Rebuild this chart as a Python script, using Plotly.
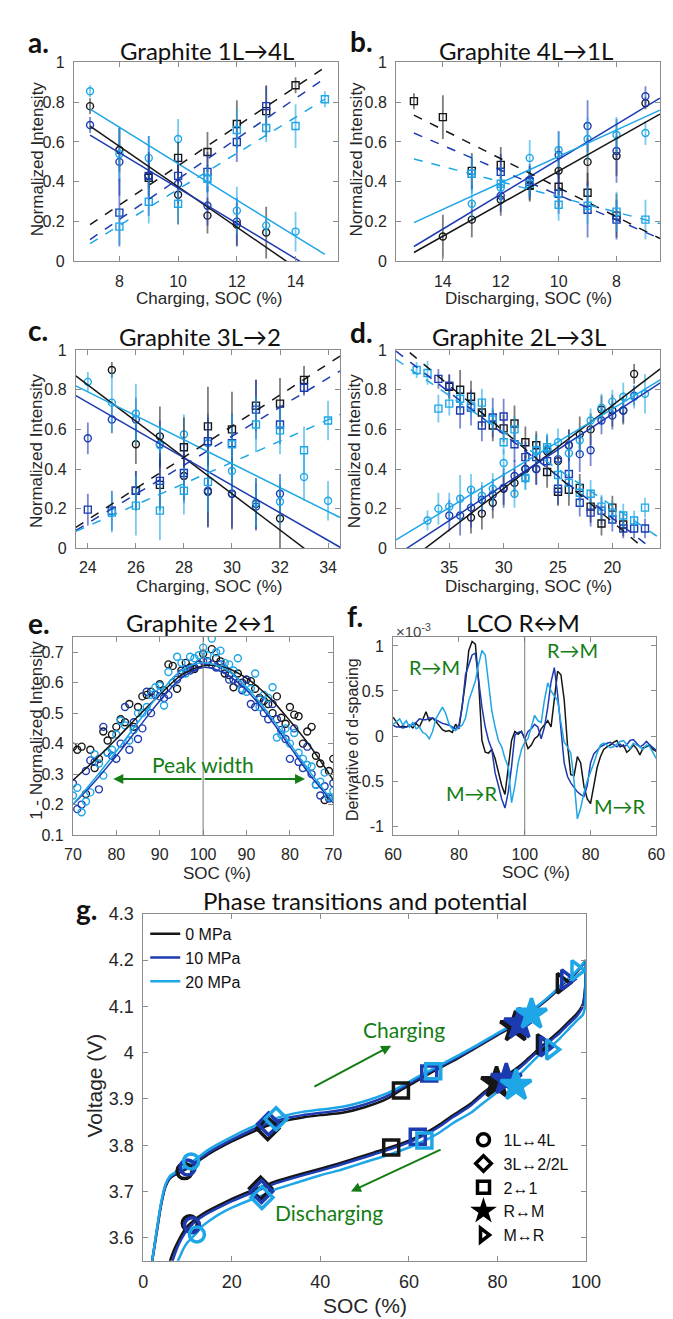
import plotly.graph_objects as go

W, H = 673, 1319
BLK = "#161616"
DKB = "#1d3bb0"
LTB = "#1ea6e6"
GRN = "#137d13"
AXC = "#8c8c8c"
TXT = "#262626"
EBC = {BLK: "rgba(40,40,40,0.6)", DKB: "rgba(29,59,176,0.6)", LTB: "rgba(30,166,230,0.6)"}
TFONT = "Lato, Open Sans, sans-serif"
AFONT = "Liberation Sans, Arial, sans-serif"

# ---------------- Panel a: Graphite 1L->4L (charging) ----------------
a_circ_k_x = [7, 8, 9, 10, 11, 12, 13]
a_circ_k_y = [0.78, 0.56, 0.43, 0.335, 0.23, 0.185, 0.145]
a_circ_k_e = [0.04, 0.11, 0.10, 0.15, 0.09, 0.11, 0.13]
a_circ_d_x = [7, 8, 9, 10, 11, 12]
a_circ_d_y = [0.685, 0.50, 0.43, 0.39, 0.28, 0.20]
a_circ_d_e = [0.04, 0.17, 0.20, 0.10, 0.10, 0.12]
a_circ_l_x = [7, 8, 9, 10, 11, 12, 13, 14]
a_circ_l_y = [0.855, 0.54, 0.52, 0.615, 0.415, 0.255, 0.18, 0.15]
a_circ_l_e = [0.03, 0.14, 0.11, 0.10, 0.07, 0.12, 0.05, 0.10]
a_sq_k_x = [9, 10, 11, 12, 13, 14]
a_sq_k_y = [0.42, 0.52, 0.55, 0.69, 0.755, 0.885]
a_sq_k_e = [0.05, 0.08, 0.10, 0.12, 0.13, 0.04]
a_sq_d_x = [8, 9, 10, 11, 12, 13]
a_sq_d_y = [0.245, 0.43, 0.43, 0.45, 0.60, 0.78]
a_sq_d_e = [0.17, 0.12, 0.09, 0.10, 0.10, 0.10]
a_sq_l_x = [8, 9, 10, 11, 12, 13, 14, 15]
a_sq_l_y = [0.175, 0.30, 0.29, 0.415, 0.66, 0.67, 0.68, 0.815]
a_sq_l_e = [0.09, 0.11, 0.10, 0.06, 0.11, 0.07, 0.11, 0.04]
a_fit_x = [7, 15]
a_fit_circ_k = [0.68, -0.132]
a_fit_circ_d = [0.635, -0.075]
a_fit_circ_l = [0.765, 0.035]
a_fit_sq_k = [0.185, 0.975]
a_fit_sq_d = [0.11, 0.92]
a_fit_sq_l = [0.09, 0.815]

# ---------------- Panel b: Graphite 4L->1L (discharging) ----------------
b_circ_k_x = [14, 13, 12, 11, 10, 9, 8, 7]
b_circ_k_y = [0.125, 0.21, 0.31, 0.38, 0.455, 0.50, 0.53, 0.795]
b_circ_k_e = [0.11, 0.09, 0.08, 0.07, 0.12, 0.12, 0.10, 0.03]
b_circ_d_x = [12, 11, 10, 9, 8, 7]
b_circ_d_y = [0.33, 0.41, 0.535, 0.68, 0.555, 0.83]
b_circ_d_e = [0.08, 0.08, 0.12, 0.13, 0.16, 0.05]
b_circ_l_x = [13, 12, 11, 10, 9, 8, 7]
b_circ_l_y = [0.29, 0.37, 0.52, 0.56, 0.615, 0.635, 0.645]
b_circ_l_e = [0.09, 0.07, 0.09, 0.09, 0.11, 0.09, 0.06]
b_sq_k_x = [15, 14, 13, 12, 11, 10, 9, 8]
b_sq_k_y = [0.805, 0.725, 0.455, 0.485, 0.38, 0.375, 0.345, 0.23]
b_sq_k_e = [0.04, 0.11, 0.09, 0.09, 0.08, 0.10, 0.10, 0.11]
b_sq_d_x = [13, 12, 11, 10, 9, 8]
b_sq_d_y = [0.44, 0.45, 0.40, 0.34, 0.26, 0.21]
b_sq_d_e = [0.08, 0.09, 0.08, 0.10, 0.14, 0.10]
b_sq_l_x = [13, 12, 11, 10, 9, 8, 7]
b_sq_l_y = [0.44, 0.39, 0.39, 0.285, 0.28, 0.25, 0.21]
b_sq_l_e = [0.10, 0.09, 0.07, 0.08, 0.09, 0.10, 0.10]
b_fit_x = [15, 6.5]
b_fit_circ_k = [0.045, 0.74]
b_fit_circ_d = [0.075, 0.82]
b_fit_circ_l = [0.195, 0.76]
b_fit_sq_k = [0.735, 0.115]
b_fit_sq_d = [0.645, 0.115]
b_fit_sq_l = [0.515, 0.19]

# ---------------- Panel c: Graphite 3L->2 (charging) ----------------
c_circ_k_x = [25, 26, 27, 28, 29, 30, 31, 32]
c_circ_k_y = [0.90, 0.525, 0.565, 0.365, 0.285, 0.275, 0.225, 0.15]
c_circ_k_e = [0.04, 0.10, 0.15, 0.12, 0.18, 0.18, 0.13, 0.17]
c_circ_d_x = [24, 25, 26, 27, 29, 30, 31, 32]
c_circ_d_y = [0.555, 0.65, 0.65, 0.525, 0.29, 0.275, 0.21, 0.275]
c_circ_d_e = [0.08, 0.07, 0.11, 0.12, 0.18, 0.17, 0.12, 0.10]
c_circ_l_x = [24, 25, 26, 27, 28, 29, 30, 31, 32, 33, 34]
c_circ_l_y = [0.84, 0.735, 0.68, 0.52, 0.575, 0.53, 0.39, 0.23, 0.235, 0.36, 0.24]
c_circ_l_e = [0.05, 0.15, 0.15, 0.10, 0.10, 0.15, 0.13, 0.12, 0.12, 0.12, 0.10]
c_sq_k_x = [26, 27, 28, 29, 30, 31, 32, 33]
c_sq_k_y = [0.29, 0.32, 0.51, 0.615, 0.60, 0.72, 0.73, 0.85]
c_sq_k_e = [0.10, 0.13, 0.15, 0.20, 0.19, 0.13, 0.13, 0.07]
c_sq_d_x = [24, 25, 26, 27, 28, 29, 30, 31, 32, 33]
c_sq_d_y = [0.195, 0.19, 0.29, 0.34, 0.38, 0.54, 0.53, 0.70, 0.625, 0.81]
c_sq_d_e = [0.08, 0.10, 0.10, 0.14, 0.15, 0.12, 0.15, 0.15, 0.10, 0.04]
c_sq_l_x = [25, 26, 27, 28, 29, 30, 31, 32, 33, 34]
c_sq_l_y = [0.18, 0.215, 0.19, 0.29, 0.335, 0.525, 0.625, 0.595, 0.495, 0.645]
c_sq_l_e = [0.10, 0.15, 0.15, 0.12, 0.15, 0.15, 0.14, 0.12, 0.12, 0.10]
c_fit_x = [23.5, 34.5]
c_fit_circ_k = [0.87, -0.137]
c_fit_circ_d = [0.77, 0.005]
c_fit_circ_l = [0.82, 0.155]
c_fit_sq_k = [0.105, 0.97]
c_fit_sq_d = [0.09, 0.895]
c_fit_sq_l = [0.085, 0.675]

# ---------------- Panel d: Graphite 2L->3L (discharging) ----------------
d_circ_l_x = [37, 36, 35, 34, 33, 32, 31, 30, 29, 28, 27, 26, 25, 24, 23, 22, 21, 20, 19, 18, 17]
d_circ_l_y = [0.14, 0.20, 0.21, 0.25, 0.295, 0.265, 0.30, 0.43, 0.275, 0.355, 0.495, 0.50, 0.535,
              0.48, 0.545, 0.645, 0.71, 0.74, 0.765, 0.765, 0.78]
d_circ_l_e = [0.05, 0.08, 0.07, 0.12, 0.08, 0.07, 0.08, 0.07, 0.07, 0.06, 0.08, 0.07, 0.07,
              0.08, 0.07, 0.06, 0.07, 0.06, 0.07, 0.06, 0.10]
d_circ_d_x = [35, 34, 33, 32, 31, 30, 29, 28, 27, 26, 25, 24, 23, 22, 21, 20, 19, 18]
d_circ_d_y = [0.165, 0.165, 0.205, 0.245, 0.27, 0.305, 0.365, 0.40, 0.40, 0.50, 0.45, 0.52,
              0.475, 0.495, 0.645, 0.67, 0.695, 0.77]
d_circ_d_e = [0.08, 0.10, 0.10, 0.07, 0.08, 0.10, 0.08, 0.07, 0.08, 0.07, 0.07, 0.08,
              0.09, 0.08, 0.07, 0.07, 0.06, 0.05]
d_circ_k_x = [33, 32, 31, 30, 29, 28, 27, 26, 25, 24, 23, 22, 21, 20, 19, 18]
d_circ_k_y = [0.155, 0.175, 0.23, 0.30, 0.33, 0.40, 0.40, 0.49, 0.44, 0.52, 0.575, 0.60,
              0.70, 0.695, 0.695, 0.88]
d_circ_k_e = [0.08, 0.08, 0.08, 0.08, 0.07, 0.07, 0.08, 0.07, 0.08, 0.08, 0.09, 0.08,
              0.07, 0.08, 0.07, 0.05]
d_sq_k_x = [35, 34, 33, 32, 31, 30, 29, 28, 27, 26, 25, 24, 23, 22, 21, 20, 19]
d_sq_k_y = [0.815, 0.80, 0.765, 0.685, 0.62, 0.605, 0.63, 0.535, 0.52, 0.385, 0.285, 0.295,
            0.305, 0.21, 0.125, 0.205, 0.12]
d_sq_k_e = [0.06, 0.10, 0.08, 0.07, 0.08, 0.07, 0.09, 0.08, 0.07, 0.08, 0.07, 0.08,
            0.07, 0.08, 0.06, 0.06, 0.06]
d_sq_d_x = [36, 35, 34, 33, 32, 31, 30, 29, 28, 27, 26, 25, 24, 23, 22, 21, 20, 19, 18, 17]
d_sq_d_y = [0.855, 0.82, 0.695, 0.71, 0.62, 0.66, 0.665, 0.525, 0.46, 0.46, 0.44, 0.30,
            0.375, 0.23, 0.18, 0.19, 0.145, 0.10, 0.10, 0.10]
d_sq_d_e = [0.05, 0.06, 0.09, 0.09, 0.08, 0.10, 0.09, 0.09, 0.08, 0.07, 0.07, 0.08,
            0.08, 0.07, 0.07, 0.07, 0.06, 0.05, 0.05, 0.05]
d_sq_l_x = [38, 37, 36, 35, 34, 33, 32, 31, 30, 29, 28, 27, 26, 25, 24, 23, 22, 21, 20, 19, 18, 17]
d_sq_l_y = [0.90, 0.885, 0.705, 0.73, 0.755, 0.72, 0.735, 0.65, 0.535, 0.60, 0.355, 0.495,
            0.51, 0.37, 0.33, 0.28, 0.275, 0.21, 0.18, 0.165, 0.14, 0.205]
d_sq_l_e = [0.04, 0.06, 0.07, 0.06, 0.06, 0.06, 0.07, 0.06, 0.06, 0.07, 0.06, 0.07,
            0.07, 0.07, 0.07, 0.07, 0.07, 0.06, 0.06, 0.06, 0.05, 0.05]
d_fit_x = [39.9, 15.6]
d_fit_circ_k = [-0.113, 0.905]
d_fit_circ_d = [-0.036, 0.835]
d_fit_circ_l = [0.042, 0.85]
d_fit_sq_k = [1.046, -0.069]
d_fit_sq_d = [0.995, -0.034]
d_fit_sq_l = [0.953, 0.05]

# ---------------- Panel e: Graphite 2<->1 (position along 70..100..70 SOC) ----------------
e_pos = list(range(0, 61))
e_k = [0.39, 0.38, 0.39, 0.235, 0.38, 0.32, 0.35, 0.44, 0.41, 0.43, 0.455, 0.48, 0.47, 0.53, 0.455,
       0.52, 0.555, 0.56, 0.57, 0.56, 0.595, 0.575, 0.66, 0.655, 0.58, 0.64, 0.665, 0.65, 0.645, 0.66,
       0.695, 0.67, 0.71, 0.68, 0.67, 0.63, 0.625, 0.585, 0.63, 0.60, 0.61, 0.605, 0.58, 0.55, 0.54,
       0.53, 0.50, 0.555, 0.485, 0.465, 0.52, 0.495, 0.49, 0.40, 0.44, 0.455, 0.36, 0.335, 0.215, 0.31, 0.35]
e_d = [0.27, 0.185, 0.20, 0.31, 0.345, 0.34, 0.25, 0.455, 0.37, 0.36, 0.35, 0.40, 0.52, 0.38, 0.47,
       0.415, 0.45, 0.57, 0.50, 0.56, 0.555, 0.55, 0.56, 0.60, 0.61, 0.63, 0.645, 0.64, 0.65, 0.66,
       0.67, 0.67, 0.66, 0.65, 0.66, 0.645, 0.61, 0.61, 0.60, 0.575, 0.61, 0.53, 0.52, 0.545, 0.50,
       0.48, 0.53, 0.48, 0.445, 0.415, 0.35, 0.45, 0.34, 0.32, 0.39, 0.30, 0.265, 0.23, 0.26, 0.22, 0.27]
e_l = [0.23, 0.255, 0.175, 0.21, 0.24, 0.365, 0.335, 0.295, 0.37, 0.38, 0.43, 0.475, 0.46, 0.41, 0.445,
       0.50, 0.50, 0.52, 0.56, 0.585, 0.59, 0.525, 0.635, 0.60, 0.685, 0.665, 0.63, 0.685, 0.68, 0.69,
       0.715, 0.69, 0.745, 0.70, 0.705, 0.665, 0.66, 0.64, 0.68, 0.58, 0.57, 0.58, 0.63, 0.52, 0.56,
       0.55, 0.585, 0.42, 0.43, 0.45, 0.40, 0.435, 0.37, 0.35, 0.33, 0.325, 0.265, 0.275, 0.305, 0.225, 0.245]
e_fit_pos = [0, 5, 10, 15, 20, 25, 30, 35, 40, 45, 50, 55, 60]
e_fit_k = [0.28, 0.345, 0.415, 0.49, 0.56, 0.625, 0.655, 0.65, 0.615, 0.555, 0.475, 0.385, 0.28]
e_fit_d = [0.20, 0.275, 0.36, 0.45, 0.54, 0.615, 0.65, 0.63, 0.575, 0.49, 0.39, 0.29, 0.205]
e_fit_l = [0.20, 0.285, 0.375, 0.47, 0.565, 0.64, 0.665, 0.645, 0.585, 0.50, 0.40, 0.30, 0.21]
e_tick_pos = [0, 10, 20, 30, 40, 50, 60]
e_tick_lab = ["70", "80", "90", "100", "90", "80", "70"]

# ---------------- Panel f: LCO R<->M (position along 60..100..60 SOC), values x1e-3 ----------------
f_pos = list(range(0, 81))
f_k = [0.21, 0.15, 0.10, 0.11, 0.10, 0.12, 0.09, 0.14, 0.10, 0.18, 0.27, 0.17, 0.20, 0.16, 0.12, 0.07,
       0.05, 0.06, 0.04, 0.13, 0.08, 0.35, 0.60, 0.95, 1.05, 1.02, 0.60, -0.05, -0.18, -0.19, -0.15,
       -0.25, -0.40, -0.55, -0.65, -0.38, -0.05, 0.05, 0.02, 0.05, -0.03,
       -0.14, -0.10, -0.03, 0.00, 0.08, 0.12, 0.17, 0.10, 0.45, 0.72, 0.68, 0.40, -0.10, -0.43, -0.44,
       -0.23, -0.30, -0.56, -0.70, -0.75, -0.55, -0.35, -0.23, -0.15, -0.12, -0.10, -0.07, -0.05, -0.12,
       -0.10, -0.18, -0.15, -0.10, -0.14, -0.21, -0.13, -0.12, -0.10, -0.15, -0.17]
f_d = [0.12, 0.10, 0.10, 0.09, 0.10, 0.11, 0.13, 0.15, 0.19, 0.18, 0.18, 0.20, 0.20, 0.18, 0.16, 0.14,
       0.13, 0.12, 0.10, 0.08, 0.12, 0.32, 0.68, 0.80, 0.90, 0.92, 0.60, 0.32, 0.10, -0.05, -0.15,
       -0.41, -0.55, -0.70, -0.80, -0.62, -0.34, 0.01, 0.04, 0.05, -0.03,
       0.05, 0.08, 0.13, 0.10, -0.03, 0.10, 0.32, 0.60, 0.76, 0.46, 0.10, -0.30, -0.45, -0.52, -0.57,
       -0.62, -0.65, -0.67, -0.55, -0.30, -0.20, -0.16, -0.12, -0.10, -0.08, -0.07, -0.10, -0.12, -0.09,
       -0.12, -0.10, -0.05, -0.04, -0.08, -0.12, -0.10, -0.06, -0.10, -0.13, -0.16]
f_l = [0.13, 0.16, 0.19, 0.12, 0.17, 0.10, 0.15, 0.08, 0.10, 0.04, 0.02, -0.03, 0.05, 0.19, 0.25, 0.32,
       0.25, 0.13, 0.08, 0.06, 0.10, 0.12, 0.20, 0.39, 0.50, 0.61, 0.80, 0.95, 0.90, 0.60, 0.28,
       0.10, -0.05, -0.12, -0.25, -0.34, -0.74, -0.55, -0.30, -0.15, -0.07,
       -0.03, 0.10, 0.23, 0.17, 0.15, 0.40, 0.59, 0.50, 0.45, 0.39, 0.15, -0.07, -0.12, -0.19, -0.50,
       -0.92, -0.80, -0.63, -0.50, -0.41, -0.30, -0.19, -0.10, -0.08, -0.10, -0.13, -0.12, -0.09, -0.06,
       -0.05, -0.10, -0.14, -0.08, -0.10, -0.12, -0.15, -0.10, -0.12, -0.18, -0.25]
f_tick_pos = [0, 20, 40, 60, 80]
f_tick_lab = ["60", "80", "100", "80", "60"]

# ---------------- Panel g: voltage vs SOC ----------------
g_chg_soc = [2, 3, 4, 5, 6, 7, 8, 10, 12, 15, 20, 25, 28, 32, 36, 40, 45, 50, 55, 58, 62, 65, 70, 75,
             80, 84, 88, 90, 93, 95, 97, 98, 99, 100]
g_chg_k = [3.55, 3.61, 3.67, 3.71, 3.728, 3.735, 3.74, 3.75, 3.763, 3.782, 3.808, 3.83, 3.842, 3.853,
           3.86, 3.865, 3.87, 3.882, 3.90, 3.918, 3.94, 3.957, 3.982, 4.01, 4.038, 4.06, 4.09, 4.105,
           4.13, 4.15, 4.165, 4.175, 4.187, 4.2]
g_chg_d = [3.55, 3.612, 3.672, 3.712, 3.73, 3.737, 3.742, 3.753, 3.766, 3.786, 3.812, 3.835, 3.847,
           3.858, 3.865, 3.870, 3.876, 3.888, 3.906, 3.922, 3.944, 3.96, 3.985, 4.012, 4.04, 4.062,
           4.092, 4.107, 4.132, 4.152, 4.167, 4.177, 4.188, 4.2]
g_chg_l = [3.55, 3.615, 3.675, 3.715, 3.733, 3.74, 3.746, 3.757, 3.771, 3.792, 3.818, 3.841, 3.852,
           3.864, 3.872, 3.877, 3.883, 3.895, 3.912, 3.926, 3.948, 3.963, 3.988, 4.014, 4.042, 4.064,
           4.094, 4.108, 4.133, 4.153, 4.168, 4.178, 4.189, 4.2]
g_dis_soc = [100, 99.8, 99.3, 98, 96, 94, 92, 90, 87, 85, 82, 80, 77, 74, 70, 67, 65, 62, 60, 56, 52,
             48, 44, 40, 35, 30, 27, 24, 20, 17, 14, 12, 11, 10, 9, 8, 7, 6.2, 5.9]
g_dis_k = [4.2, 4.14, 4.105, 4.085, 4.066, 4.047, 4.03, 4.014, 3.988, 3.971, 3.95, 3.936, 3.915, 3.89,
           3.865, 3.845, 3.833, 3.818, 3.81, 3.796, 3.784, 3.772, 3.76, 3.749, 3.736, 3.722, 3.711,
           3.70, 3.684, 3.67, 3.655, 3.642, 3.634, 3.625, 3.612, 3.595, 3.575, 3.555, 3.545]
g_dis_d_soc = [100, 99.8, 99.3, 98, 96, 94, 92, 90, 87, 85, 82, 80, 77, 74, 70, 67, 65, 62, 60, 56, 52,
               48, 44, 40, 35, 30, 27, 24, 20, 17, 14, 12, 11, 10, 9, 8, 7.2, 6.6, 6.3]
g_dis_d = [4.2, 4.135, 4.1, 4.08, 4.061, 4.042, 4.026, 4.010, 3.984, 3.967, 3.946, 3.932, 3.911, 3.886,
           3.861, 3.841, 3.829, 3.815, 3.806, 3.792, 3.780, 3.768, 3.756, 3.745, 3.732, 3.718, 3.706,
           3.695, 3.679, 3.665, 3.650, 3.637, 3.628, 3.618, 3.604, 3.586, 3.567, 3.55, 3.54]
g_dis_l_soc = [100, 99.8, 99.3, 98, 96, 94, 92, 90, 87, 85, 82, 80, 77, 74, 70, 67, 65, 62, 60, 56, 52,
               48, 44, 40, 35, 30, 27, 24, 20, 17, 15, 13, 12, 11, 10, 9, 8.3, 7.7, 7.4]
g_dis_l = [4.2, 4.1, 4.082, 4.07, 4.05, 4.03, 4.013, 4.0, 3.972, 3.953, 3.93, 3.915, 3.893, 3.87,
           3.848, 3.828, 3.817, 3.803, 3.795, 3.781, 3.769, 3.757, 3.745, 3.735, 3.72, 3.705, 3.692,
           3.681, 3.665, 3.65, 3.637, 3.622, 3.61, 3.6, 3.59, 3.575, 3.56, 3.548, 3.54]

g_mk_names = ["1L↔4L", "3L↔2/2L", "2↔1", "R↔M", "M↔R"]
g_chg_mk_soc_k = [9.3, 28.1, 58.2, 84.1, 94.5]
g_chg_mk_v_k = [3.744, 3.836, 3.918, 4.056, 4.150]
g_chg_mk_soc_d = [10.0, 28.3, 64.6, 85.0, 95.5]
g_chg_mk_v_d = [3.752, 3.846, 3.955, 4.062, 4.158]
g_chg_mk_soc_l = [10.8, 30.0, 65.5, 87.7, 97.8]
g_chg_mk_v_l = [3.765, 3.857, 3.960, 4.083, 4.178]
g_dis_mk_soc_k = [10.5, 26.5, 56.0, 79.8, 90.0]
g_dis_mk_v_k = [3.631, 3.707, 3.795, 3.935, 4.018]
g_dis_mk_soc_d = [11.0, 26.7, 62.0, 82.0, 90.7]
g_dis_mk_v_d = [3.627, 3.700, 3.818, 3.942, 4.014]
g_dis_mk_soc_l = [12.1, 26.8, 63.5, 84.2, 92.1]
g_dis_mk_v_l = [3.607, 3.687, 3.810, 3.929, 4.007]
g_legend_names = ["0 MPa", "10 MPa", "20 MPa"]

# ---------------- figure ----------------
fig = go.Figure()


def ax_id(i):
    return "" if i == 1 else str(i)


def add_pts(i, x, y, err, color, symbol):
    fig.add_trace(go.Scatter(
        x=x, y=y, mode="markers", xaxis="x" + ax_id(i), yaxis="y" + ax_id(i),
        marker=dict(symbol=symbol, size=7, color=color, opacity=1, line=dict(width=1.4, color=color)),
        error_y=dict(type="data", array=err, width=0, thickness=1.8, color=EBC[color]),
        showlegend=False, hoverinfo="skip"))


def add_line(i, x, y, color, dash="solid", width=1.5, shape="linear"):
    fig.add_trace(go.Scatter(
        x=x, y=y, mode="lines", xaxis="x" + ax_id(i), yaxis="y" + ax_id(i),
        line=dict(color=color, width=width, dash=dash, shape=shape),
        showlegend=False, hoverinfo="skip"))


panels = [
    (1, a_fit_x, [(a_circ_k_x, a_circ_k_y, a_circ_k_e, a_fit_circ_k, BLK),
                  (a_circ_d_x, a_circ_d_y, a_circ_d_e, a_fit_circ_d, DKB),
                  (a_circ_l_x, a_circ_l_y, a_circ_l_e, a_fit_circ_l, LTB)],
     [(a_sq_k_x, a_sq_k_y, a_sq_k_e, a_fit_sq_k, BLK),
      (a_sq_d_x, a_sq_d_y, a_sq_d_e, a_fit_sq_d, DKB),
      (a_sq_l_x, a_sq_l_y, a_sq_l_e, a_fit_sq_l, LTB)]),
    (2, b_fit_x, [(b_circ_k_x, b_circ_k_y, b_circ_k_e, b_fit_circ_k, BLK),
                  (b_circ_d_x, b_circ_d_y, b_circ_d_e, b_fit_circ_d, DKB),
                  (b_circ_l_x, b_circ_l_y, b_circ_l_e, b_fit_circ_l, LTB)],
     [(b_sq_k_x, b_sq_k_y, b_sq_k_e, b_fit_sq_k, BLK),
      (b_sq_d_x, b_sq_d_y, b_sq_d_e, b_fit_sq_d, DKB),
      (b_sq_l_x, b_sq_l_y, b_sq_l_e, b_fit_sq_l, LTB)]),
    (3, c_fit_x, [(c_circ_k_x, c_circ_k_y, c_circ_k_e, c_fit_circ_k, BLK),
                  (c_circ_d_x, c_circ_d_y, c_circ_d_e, c_fit_circ_d, DKB),
                  (c_circ_l_x, c_circ_l_y, c_circ_l_e, c_fit_circ_l, LTB)],
     [(c_sq_k_x, c_sq_k_y, c_sq_k_e, c_fit_sq_k, BLK),
      (c_sq_d_x, c_sq_d_y, c_sq_d_e, c_fit_sq_d, DKB),
      (c_sq_l_x, c_sq_l_y, c_sq_l_e, c_fit_sq_l, LTB)]),
    (4, d_fit_x, [(d_circ_k_x, d_circ_k_y, d_circ_k_e, d_fit_circ_k, BLK),
                  (d_circ_d_x, d_circ_d_y, d_circ_d_e, d_fit_circ_d, DKB),
                  (d_circ_l_x, d_circ_l_y, d_circ_l_e, d_fit_circ_l, LTB)],
     [(d_sq_k_x, d_sq_k_y, d_sq_k_e, d_fit_sq_k, BLK),
      (d_sq_d_x, d_sq_d_y, d_sq_d_e, d_fit_sq_d, DKB),
      (d_sq_l_x, d_sq_l_y, d_sq_l_e, d_fit_sq_l, LTB)]),
]

for i, fx, circs, sqs in panels:
    for x, y, e, fy, col in circs:
        add_pts(i, x, y, e, col, "circle-open")
    for x, y, e, fy, col in sqs:
        add_pts(i, x, y, e, col, "square-open")
    for x, y, e, fy, col in circs:
        add_line(i, fx, fy, col, "solid", 1.5)
    for x, y, e, fy, col in sqs:
        add_line(i, fx, fy, col, "dash", 1.5)

# panel e
for yy, col in [(e_k, BLK), (e_d, DKB), (e_l, LTB)]:
    fig.add_trace(go.Scatter(x=e_pos, y=yy, mode="markers", xaxis="x5", yaxis="y5",
                             marker=dict(symbol="circle-open", size=7, color=col, opacity=1,
                                         line=dict(width=1.4, color=col)),
                             showlegend=False, hoverinfo="skip"))
for yy, col in [(e_fit_k, BLK), (e_fit_d, DKB), (e_fit_l, LTB)]:
    add_line(5, e_fit_pos, yy, col, "solid", 1.5, "spline")

# panel f
for yy, col in [(f_k, BLK), (f_d, DKB), (f_l, LTB)]:
    add_line(6, f_pos, yy, col, "solid", 1.5)

# panel g
for soc, vv, col, name in [(g_chg_soc, g_chg_k, BLK, g_legend_names[0]),
                           (g_chg_soc, g_chg_d, DKB, g_legend_names[1]),
                           (g_chg_soc, g_chg_l, LTB, g_legend_names[2])]:
    fig.add_trace(go.Scatter(x=soc, y=vv, mode="lines", xaxis="x7", yaxis="y7", name=name,
                             line=dict(color=col, width=2.5, shape="spline", smoothing=0.6),
                             legend="legend", showlegend=True, hoverinfo="skip"))
for soc, vv, col in [(g_dis_soc, g_dis_k, BLK), (g_dis_d_soc, g_dis_d, DKB), (g_dis_l_soc, g_dis_l, LTB)]:
    fig.add_trace(go.Scatter(x=soc, y=vv, mode="lines", xaxis="x7", yaxis="y7",
                             line=dict(color=col, width=2.5, shape="spline", smoothing=0.6),
                             showlegend=False, hoverinfo="skip"))

MK_SYM = ["circle-open", "diamond-open", "square-open", "star", "triangle-right-open"]
MK_SIZE = [15, 17, 15, 23, 17]
for soc, vv, col in [(g_chg_mk_soc_k, g_chg_mk_v_k, BLK), (g_chg_mk_soc_d, g_chg_mk_v_d, DKB),
                     (g_chg_mk_soc_l, g_chg_mk_v_l, LTB), (g_dis_mk_soc_k, g_dis_mk_v_k, BLK),
                     (g_dis_mk_soc_d, g_dis_mk_v_d, DKB), (g_dis_mk_soc_l, g_dis_mk_v_l, LTB)]:
    fig.add_trace(go.Scatter(x=soc, y=vv, mode="markers", xaxis="x7", yaxis="y7",
                             marker=dict(symbol=MK_SYM, size=MK_SIZE, color=col, opacity=1,
                                         line=dict(width=3.5, color=col)),
                             showlegend=False, hoverinfo="skip"))
for name, sym in zip(g_mk_names, MK_SYM):
    fig.add_trace(go.Scatter(x=[None], y=[None], mode="markers", xaxis="x7", yaxis="y7", name=name,
                             marker=dict(symbol=sym, size=12, color="black", opacity=1,
                                         line=dict(width=3.5, color="black")),
                             legend="legend2", showlegend=True))

# ---------------- layout ----------------
def dom_x(a, b):
    return [a / W, b / W]


def dom_y(top, bottom):
    return [1 - bottom / H, 1 - top / H]


def axis_style(**kw):
    d = dict(showline=True, linecolor=AXC, linewidth=1, mirror="ticks", ticks="inside", ticklen=5,
             tickcolor=AXC, showgrid=False, zeroline=False, ticklabelstandoff=5,
             tickfont=dict(family=AFONT, size=16, color=TXT))
    d.update(kw)
    return d


frac_ticks = [0, 0.2, 0.4, 0.6, 0.8, 1]
frac_lab = ["0", "0.2", "0.4", "0.6", "0.8", "1"]

geom = {
    1: (dom_x(59, 333), dom_y(45, 247), [6.45, 15.45], [8, 10, 12, 14], None, [0, 1], frac_ticks, frac_lab),
    2: (dom_x(393, 667), dom_y(45, 247), [15.62, 6.49], [14, 12, 10, 8], None, [0, 1], frac_ticks, frac_lab),
    3: (dom_x(61, 335), dom_y(337, 538), [23.5, 34.5], [24, 26, 28, 30, 32, 34], None, [0, 1], frac_ticks, frac_lab),
    4: (dom_x(393, 667), dom_y(337, 538), [39.9, 15.6], [35, 30, 25, 20], None, [0, 1], frac_ticks, frac_lab),
    5: (dom_x(58, 328), dom_y(628, 829), [0, 60], e_tick_pos, e_tick_lab, [0.1, 0.75],
        [0.1, 0.2, 0.3, 0.4, 0.5, 0.6, 0.7], ["0.1", "0.2", "0.3", "0.4", "0.5", "0.6", "0.7"]),
    6: (dom_x(390, 663), dom_y(628, 829), [0, 80], f_tick_pos, f_tick_lab, [-1.1, 1.1],
        [-1, -0.5, 0, 0.5, 1], ["-1", "-0.5", "0", "0.5", "1"]),
    7: (dom_x(131, 590), dom_y(909, 1261), [0, 100], [0, 20, 40, 60, 80, 100], None, [3.55, 4.3],
        [3.6, 3.7, 3.8, 3.9, 4.0, 4.1, 4.2, 4.3], ["3.6", "3.7", "3.8", "3.9", "4", "4.1", "4.2", "4.3"]),
}

lay = {}
for i, (dx, dy, xr, xt, xl, yr, yt, yl) in geom.items():
    fs = 18 if i == 7 else 16
    xa = axis_style(domain=dx, range=xr, tickvals=xt, anchor="y" + ax_id(i),
                    tickfont=dict(family=AFONT, size=fs, color=TXT))
    if xl is not None:
        xa["ticktext"] = xl
    ya = axis_style(domain=dy, range=yr, tickvals=yt, ticktext=yl, anchor="x" + ax_id(i),
                    tickfont=dict(family=AFONT, size=fs, color=TXT))
    lay["xaxis" + ax_id(i)] = xa
    lay["yaxis" + ax_id(i)] = ya

fig.update_layout(**lay)

# dividing lines at 100 % SOC
fig.add_shape(type="line", xref="x5", yref="y5 domain", x0=30, x1=30, y0=0, y1=1,
              line=dict(color="#7a7a7a", width=1))
fig.add_shape(type="line", xref="x6", yref="y6 domain", x0=40, x1=40, y0=0, y1=1,
              line=dict(color="#7a7a7a", width=1))

ann = []


def txt(xp, yp, text, size, font=TFONT, color=TXT, angle=0, bold=False, xanchor="center"):
    t = "<b>" + text + "</b>" if bold else text
    ann.append(dict(x=xp / W, y=1 - yp / H, xref="paper", yref="paper", text=t, showarrow=False,
                    font=dict(family=font, size=size, color=color), textangle=angle,
                    xanchor=xanchor, yanchor="middle"))


# titles
TS = 24
txt(197, 33, "Graphite 1L→4L", TS, color="#111")
txt(528, 33, "Graphite 4L→1L", TS, color="#111")
txt(190, 323, "Graphite 3L→2", TS, color="#111")
txt(521, 323, "Graphite 2L→3L", TS, color="#111")
txt(191, 613, "Graphite 2↔1", TS, color="#111")
txt(525, 613, "LCO R↔M", TS, color="#111")
txt(361, 895, "Phase transitions and potential", TS, color="#111")
# panel letters
for xp, yp, lab in [(22, 24, "a."), (357, 23, "b."), (22, 317, "c."), (357, 319, "d."),
                    (23, 614, "e."), (350, 607, "f."), (72, 904, "g.")]:
    txt(xp, yp, lab, 28, color="#111", bold=True)
# axis titles
for xp, yp in [(22, 143), (352, 143), (20, 439), (350, 439)]:
    txt(xp, yp, "Normalized Intensity", 17, font=AFONT, angle=-90)
txt(199, 285, "Charging, SOC (%)", 17, font=AFONT)
txt(530, 285, "Discharging, SOC (%)", 17, font=AFONT)
txt(199, 577, "Charging, SOC (%)", 17, font=AFONT)
txt(530, 577, "Discharging, SOC (%)", 17, font=AFONT)
txt(20, 723, "1 - Normalized Intensity", 17, font=AFONT, angle=-90)
txt(348, 732, "Derivative of d-spacing", 16, font=AFONT, angle=-90)
txt(207, 868, "SOC (%)", 17, font=AFONT)
txt(538, 867, "SOC (%)", 17, font=AFONT)
txt(80, 1083, "Voltage (V)", 21, font=AFONT, angle=-90)
txt(361, 1306, "SOC (%)", 21, font=AFONT)
txt(411, 621, "×10<sup>-3</sup>", 15, font=AFONT, color="#444")


# green annotations in data coordinates
def dtxt(i, x, y, text, size):
    ann.append(dict(x=x, y=y, xref="x" + ax_id(i), yref="y" + ax_id(i), text=text, showarrow=False,
                    font=dict(family=TFONT, size=size, color=GRN), xanchor="center", yanchor="middle"))


def darrow(i, x0, y0, x1, y1):
    ann.append(dict(x=x1, y=y1, ax=x0, ay=y0, xref="x" + ax_id(i), yref="y" + ax_id(i),
                    axref="x" + ax_id(i), ayref="y" + ax_id(i), text="", showarrow=True,
                    arrowhead=2, arrowsize=1, arrowwidth=2, arrowcolor=GRN))


dtxt(5, 30, 0.333, "Peak width", 21)
darrow(5, 30, 0.284, 9.3, 0.284)
darrow(5, 30, 0.284, 53.5, 0.284)
dtxt(6, 12.7, 0.77, "R→M", 20)
dtxt(6, 54.4, 0.96, "R→M", 20)
dtxt(6, 23.9, -0.63, "M→R", 20)
dtxt(6, 68.8, -0.775, "M→R", 20)
dtxt(7, 58.8, 4.05, "Charging", 21)
dtxt(7, 42.0, 3.655, "Discharging", 21)
darrow(7, 38.3, 3.925, 56.0, 4.015)
darrow(7, 67.5, 3.792, 46.9, 3.700)

fig.update_layout(
    annotations=ann,
    width=W, height=H, autosize=False,
    margin=dict(l=0, r=0, t=0, b=0),
    paper_bgcolor="white", plot_bgcolor="white",
    legend=dict(x=133 / W, y=1 - 912 / H, xanchor="left", yanchor="top", bgcolor="rgba(0,0,0,0)",
                font=dict(family=AFONT, size=16, color="#111"), tracegroupgap=0, itemwidth=30),
    legend2=dict(x=463 / W, y=1 - 1121 / H, xanchor="left", yanchor="top", bgcolor="rgba(0,0,0,0)",
                 font=dict(family=AFONT, size=16, color="#111"), tracegroupgap=0, itemwidth=30),
)

fig.write_html("out.html")
